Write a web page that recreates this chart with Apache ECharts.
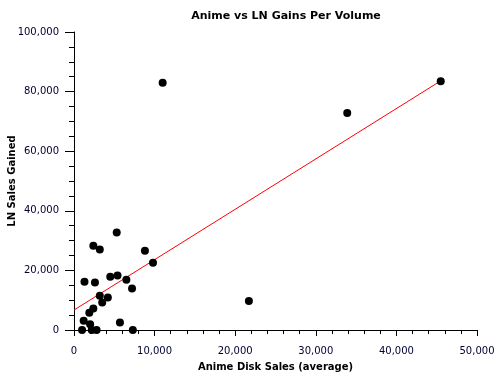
<!DOCTYPE html>
<html>
<head>
<meta charset="utf-8">
<script src="https://cdn.jsdelivr.net/npm/echarts@6/dist/echarts.min.js"></script>
<style>html,body{margin:0;padding:0;background:#fff}#c{width:500px;height:380px}</style>
</head>
<body>
<div id="c"></div>
<script>
// Anime disk sales (average) per title
var animeSales = [45500, 11000, 33900, 21700, 5300, 2400, 3200, 8800, 9800, 1300, 2600, 4500, 5400, 6500, 7200, 3200, 4200, 3500, 2400, 1900, 1200, 2000, 1000, 2200, 2800, 5700, 7300];
// LN sales gained
var lnGains   = [83500, 83000, 72800, 9700, 32700, 28300, 27000, 26600, 22600, 16200, 15900, 17900, 18300, 16900, 13900, 11500, 10900, 9200, 7200, 5800, 3100, 1900, 0, 0, 0, 2500, 0];
// trend line endpoints
var trendX = [0, 45500];
var trendY = [6700, 83600];

var title = 'Anime vs LN Gains Per Volume';
var xName = 'Anime Disk Sales (average)';
var yName = 'LN Sales Gained';

var pts = animeSales.map(function (x, i) { return [x, lnGains[i]]; });
var trend = trendX.map(function (x, i) { return [x, trendY[i]]; });

var fmt = function (v) { return echarts.format.addCommas(v); };
var txt = '#000033';
var font = 'DejaVu Sans';

var chart = echarts.init(document.getElementById('c'), null, {renderer: 'canvas'});
chart.setOption({
  animation: false,
  backgroundColor: '#fff',
  title: {
    text: title, left: 281, top: 6, textAlign: 'center',
    textStyle: {fontFamily: font, fontSize: 11, fontWeight: 'bold', color: '#000'}
  },
  grid: {left: 74, right: 23, top: 32, bottom: 50, containLabel: false, outerBoundsMode: 'none'},
  xAxis: {
    type: 'value', min: 0, max: 50000, interval: 10000, offset: 4,
    name: xName, nameLocation: 'middle', nameGap: 28, nameMoveOverlap: false,
    nameTextStyle: {fontFamily: font, fontSize: 10, fontWeight: 'bold', color: '#000'},
    axisLine: {show: true, lineStyle: {color: '#000', width: 1}},
    axisTick: {show: true, length: 6, lineStyle: {color: '#000'}},
    minorTick: {show: true, splitNumber: 5, length: 4, lineStyle: {color: '#000'}},
    splitLine: {show: false},
    axisLabel: {formatter: fmt, fontFamily: font, fontSize: 10, color: txt, margin: 12}
  },
  yAxis: {
    type: 'value', min: 0, max: 100000, interval: 20000,
    name: yName, nameLocation: 'middle', nameGap: 57, nameRotate: 90, nameMoveOverlap: false,
    nameTextStyle: {fontFamily: font, fontSize: 10, fontWeight: 'bold', color: '#000'},
    axisLine: {show: true, lineStyle: {color: '#000', width: 1}},
    axisTick: {show: true, length: 9, lineStyle: {color: '#000'}},
    minorTick: {show: true, splitNumber: 4, length: 5, lineStyle: {color: '#000'}},
    splitLine: {show: false},
    axisLabel: {formatter: fmt, fontFamily: font, fontSize: 10, color: txt, margin: 15}
  },
  series: [
    {
      type: 'line', data: trend, symbol: 'none', silent: true,
      lineStyle: {color: '#ff0000', width: 1}, z: 1
    },
    {
      type: 'scatter', data: pts, symbol: 'circle', symbolSize: 8,
      itemStyle: {color: '#000', opacity: 1}, z: 2
    }
  ]
});
</script>
</body>
</html>
